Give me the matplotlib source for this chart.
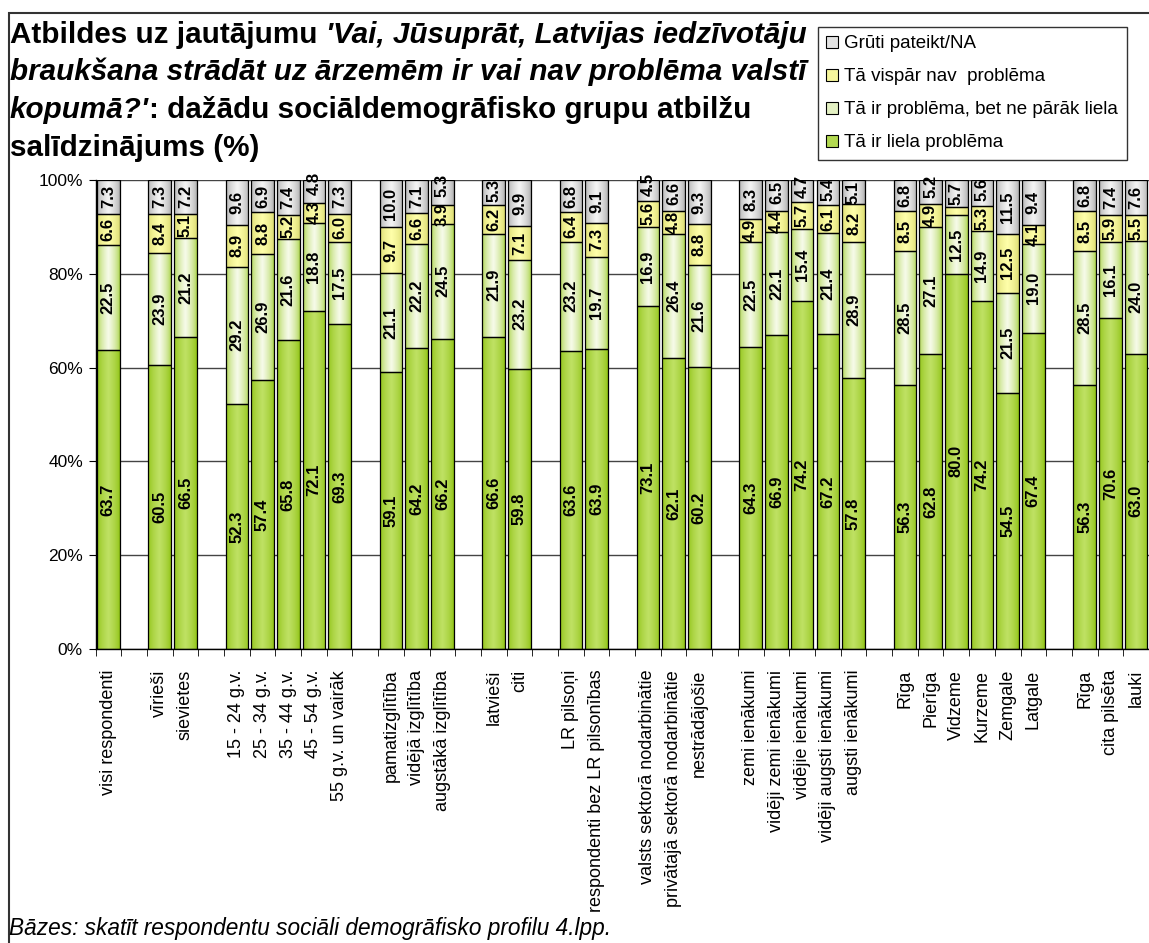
import numpy as np
import matplotlib.pyplot as plt
from matplotlib.patches import Rectangle

plt.rcParams['font.family'] = ['Liberation Sans', 'DejaVu Sans']

# category slots (None = gap between groups)
categories = [
    'visi respondenti', None,
    'vīrieši', 'sievietes', None,
    '15 - 24 g.v.', '25 - 34 g.v.', '35 - 44 g.v.', '45 - 54 g.v.', '55 g.v. un vairāk', None,
    'pamatizglītība', 'vidējā izglītība', 'augstākā izglītība', None,
    'latvieši', 'citi', None,
    'LR pilsoņi', 'respondenti bez LR pilsonības', None,
    'valsts sektorā nodarbinātie', 'privātajā sektorā nodarbinātie', 'nestrādājošie', None,
    'zemi ienākumi', 'vidēji zemi ienākumi', 'vidējie ienākumi', 'vidēji augsti ienākumi', 'augsti ienākumi', None,
    'Rīga', 'Pierīga', 'Vidzeme', 'Kurzeme', 'Zemgale', 'Latgale', None,
    'Rīga', 'cita pilsēta', 'lauki',
]

liela = [63.7, 60.5, 66.5, 52.3, 57.4, 65.8, 72.1, 69.3, 59.1, 64.2, 66.2, 66.6, 59.8, 63.6, 63.9,
         73.1, 62.1, 60.2, 64.3, 66.9, 74.2, 67.2, 57.8, 56.3, 62.8, 80.0, 74.2, 54.5, 67.4, 56.3, 70.6, 63.0]
ne_liela = [22.5, 23.9, 21.2, 29.2, 26.9, 21.6, 18.8, 17.5, 21.1, 22.2, 24.5, 21.9, 23.2, 23.2, 19.7,
            16.9, 26.4, 21.6, 22.5, 22.1, 15.4, 21.4, 28.9, 28.5, 27.1, 12.5, 14.9, 21.5, 19.0, 28.5, 16.1, 24.0]
nav = [6.6, 8.4, 5.1, 8.9, 8.8, 5.2, 4.3, 6.0, 9.7, 6.6, 3.9, 6.2, 7.1, 6.4, 7.3,
       5.6, 4.8, 8.8, 4.9, 4.4, 5.7, 6.1, 8.2, 8.5, 4.9, 1.8, 5.3, 12.5, 4.1, 8.5, 5.9, 5.5]
gruti = [7.3, 7.3, 7.2, 9.6, 6.9, 7.4, 4.8, 7.3, 10.0, 7.1, 5.3, 5.3, 9.9, 6.8, 9.1,
         4.5, 6.6, 9.3, 8.3, 6.5, 4.7, 5.4, 5.1, 6.8, 5.2, 5.7, 5.6, 11.5, 9.4, 6.8, 7.4, 7.6]

series = [liela, ne_liela, nav, gruti]
series_names = ['Tā ir liela problēma', 'Tā ir problēma, bet ne pārāk liela',
                'Tā vispār nav  problēma', 'Grūti pateikt/NA']
# (edge colour, centre colour) of the horizontal gradient
grad_colors = [('#8abf0c', '#bfe164'), ('#a3cf3a', '#f7fbea'),
               ('#d6d66a', '#ffffaa'), ('#a6a6a6', '#f4f4f4')]

W, H = 1149, 943
fig = plt.figure(figsize=(W / 100, H / 100), dpi=100)
ax = fig.add_axes([95.5 / W, 1 - 649 / H, (W - 95.5) / W, (649 - 180) / H])

pos = [i for i, c in enumerate(categories) if c is not None]
bw = 0.88


def gradient(c_edge, c_mid, n=64):
    e = np.array(plt.matplotlib.colors.to_rgb(c_edge))
    m = np.array(plt.matplotlib.colors.to_rgb(c_mid))
    u = np.linspace(0, 1, n)
    t = (1 - np.abs(2 * u - 1)) ** 0.55
    return (e[None, :] + (m - e)[None, :] * t[:, None])[None, :, :]


grads = [gradient(*gc) for gc in grad_colors]

bottom = np.zeros(len(pos))
label_px = lambda s: 9.3 * sum(ch.isdigit() for ch in s) + 4.7
px_per_pct = (649 - 180) / 100.0
prev_top = np.full(len(pos), -10.0)
for k, vals in enumerate(series):
    vals = np.array(vals)
    for j, x in enumerate(pos):
        ax.imshow(grads[k], extent=[x - bw / 2, x + bw / 2, bottom[j], bottom[j] + vals[j]],
                  aspect='auto', interpolation='bilinear', zorder=2)
    ax.bar(pos, vals, bw, bottom=bottom, fill=False, edgecolor='black', linewidth=0.9, zorder=3)
    for j, x in enumerate(pos):
        v = vals[j]
        if v < 2:
            continue
        s = f'{v:.1f}'
        h = (label_px(s) / 2 + 3) / px_per_pct
        c = bottom[j] + v / 2
        if c - h < prev_top[j]:
            c = prev_top[j] + h
        prev_top[j] = c + h
        ax.text(x, c, s, rotation=90, ha='center', va='center', fontsize=12,
                fontweight='bold', zorder=4, clip_on=False)
    bottom += vals

ax.set_xlim(-0.5, -0.5 + (W - 95.5) / 25.9)
ax.set_ylim(0, 100)
ax.set_yticks([0, 20, 40, 60, 80, 100])
ax.set_yticklabels(['0%', '20%', '40%', '60%', '80%', '100%'], fontsize=12.5)
ax.yaxis.grid(True, color='#444444', linewidth=1.0, zorder=0)
ax.set_axisbelow(True)
ax.set_xticks(pos)
ax.set_xticklabels([categories[i] for i in pos], rotation=90, fontsize=13)
ax.set_xticks(np.arange(-0.5, len(categories) + 0.5, 1), minor=True)
ax.tick_params(axis='x', which='major', length=0, pad=15)
ax.tick_params(axis='x', which='minor', length=5, direction='out')
ax.tick_params(axis='y', length=5, direction='out', pad=4)
for sp in ['top', 'right']:
    ax.spines[sp].set_visible(False)
ax.spines['left'].set_linewidth(1.0)
ax.spines['bottom'].set_linewidth(1.0)

# legend
handles = [Rectangle((0, 0), 1, 1, facecolor=plt.matplotlib.colors.to_hex(grads[k][0, 20]),
                     edgecolor='black', linewidth=0.8) for k in range(4)]
leg = fig.legend(handles[::-1], series_names[::-1], loc='upper left',
                 bbox_to_anchor=(818 / W, 1 - 27 / H), fontsize=13.5, frameon=True,
                 fancybox=False, edgecolor='black', handlelength=0.6, handleheight=0.6,
                 handletextpad=0.35, labelspacing=0.85, borderpad=0.45, borderaxespad=0)
leg.get_frame().set_linewidth(1.0)

# outer border (left and top visible)
fig.patches.append(Rectangle((8.5 / W, -0.2), 1.5, 1.2 - 12.5 / H, transform=fig.transFigure,
                             fill=False, edgecolor='#333333', linewidth=1.5))

# title with mixed regular / italic parts
title_lines = [
    [('Atbildes uz jautājumu ', 'normal'), ("'Vai, Jūsuprāt, Latvijas iedzīvotāju", 'italic')],
    [('braukšana strādāt uz ārzemēm ir vai nav problēma valstī', 'italic')],
    [("kopumā?'", 'italic'), (': dažādu sociāldemogrāfisko grupu atbilžu', 'normal')],
    [('salīdzinājums (%)', 'normal')],
]
renderer = fig.canvas.get_renderer()
tfam = ['Liberation Sans Narrow', 'Liberation Sans']


def piece_width(txt, style, size):
    m1 = fig.text(0, 0, txt + '|', fontstyle=style, fontsize=size, fontweight='bold', family=tfam)
    m2 = fig.text(0, 0, '|', fontstyle=style, fontsize=size, fontweight='bold', family=tfam)
    w = m1.get_window_extent(renderer).width - m2.get_window_extent(renderer).width
    m1.remove()
    m2.remove()
    return w


# fit the second title line to the reference width
tsize = 21 * (805 - 10) / piece_width(title_lines[1][0][0], 'italic', 21)
for li, parts in enumerate(title_lines):
    xpx = 10
    ybase = 1 - (43 + li * 37.5) / H
    for txt, style in parts:
        fig.text(xpx / W, ybase, txt, fontstyle=style, va='baseline', ha='left',
                 fontsize=tsize, fontweight='bold', family=tfam)
        xpx += piece_width(txt, style, tsize)

fig.text(9 / W, 1 - 935 / H, 'Bāzes: skatīt respondentu sociāli demogrāfisko profilu 4.lpp.',
         fontsize=16.3, fontstyle='italic', va='baseline', ha='left')

fig.savefig('out.png', dpi=100)
plt.close(fig)
